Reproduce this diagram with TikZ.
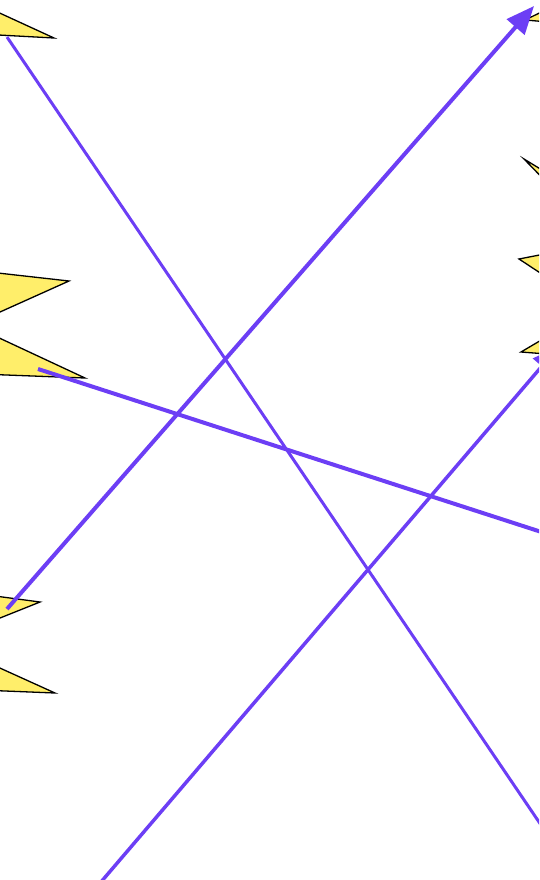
\documentclass[tikz,border=0pt]{standalone}
\usepackage{xcolor}
\usepackage{tikz}
\usetikzlibrary{arrows.meta}
\definecolor{linkviolet}{HTML}{6C3EF5}
\definecolor{wedgeyellow}{HTML}{FFEE6A}

\begin{document}
\begin{tikzpicture}[x=1pt, y=-1pt,
    wedge/.style={fill=wedgeyellow, draw=black, line width=1.3pt},
    link/.style={draw=linkviolet, line width=3pt},
    boldlink/.style={link, line width=4pt}]
    \useasboundingbox (0,0) rectangle (539,880);
    \clip (0,0) rectangle (539,880);
    % wedges on the left
    \filldraw[wedge] (54,38) -- (-20,4) -- (-20,34) -- cycle;
    \filldraw[wedge] (69,281) -- (-20,271) -- (-20,321) -- cycle;
    \filldraw[wedge] (85,378) -- (-20,329) -- (-20,374) -- cycle;
    \filldraw[wedge] (40,602) -- (-20,594) -- (-20,626) -- cycle;
    \filldraw[wedge] (55,693) -- (-20,659) -- (-20,690) -- cycle;
    % wedges on the right
    \filldraw[wedge] (525,20) -- (560,3) -- (560,23) -- cycle;
    \filldraw[wedge] (524,159) -- (560,181) -- (560,196) -- cycle;
    \filldraw[wedge] (519,259) -- (560,251) -- (560,286) -- cycle;
    \filldraw[wedge] (521,352) -- (560,329) -- (560,355) -- cycle;
    % link ends
    \coordinate (topleft) at (7,37);
    \coordinate (lowright) at (560,853);
    \coordinate (midleft) at (7,609);
    \coordinate (topright) at (534,6);
    \coordinate (wedgeleft) at (38,369);
    \coordinate (sideright) at (560,538);
    \coordinate (bottom) at (95,889);
    \coordinate (upright) at (560,345);
    % links
    \draw[link] (topleft) -- (lowright);
    \draw[boldlink, -{Triangle[length=28pt, width=23pt]}] (midleft) -- (topright);
    \draw[boldlink] (wedgeleft) -- (sideright);
    \draw[link, line width=3.5pt, -{Triangle[length=28pt, width=23pt]}] (bottom) -- (upright);
\end{tikzpicture}
\end{document}
